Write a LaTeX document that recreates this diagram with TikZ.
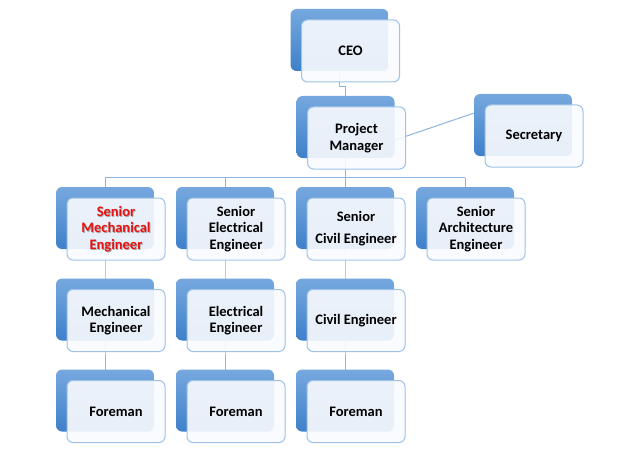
\documentclass[tikz,border=0pt]{standalone}
\usepackage{fontspec}
\setmainfont{Carlito}
\usetikzlibrary{calc}
\definecolor{bluetop}{RGB}{118,168,222}
\definecolor{bluebot}{RGB}{62,128,202}
\definecolor{frontfill}{RGB}{250,251,254}
\definecolor{frontdraw}{RGB}{158,194,232}
\definecolor{connc}{RGB}{140,180,225}
\definecolor{redtxt}{RGB}{232,18,18}
\pgfdeclarelayer{conns}
\pgfdeclarelayer{backs}
\pgfsetlayers{conns,backs,main}
\tikzset{
  backbox/.style={rectangle, rounded corners=6pt, minimum width=98pt, minimum height=62pt,
    top color=bluetop, bottom color=bluebot, draw=none, inner sep=0pt},
  frontbox/.style={rectangle, rounded corners=6pt, minimum width=98pt, minimum height=62pt,
    fill=frontfill, fill opacity=0.9, text opacity=1, draw=frontdraw, draw opacity=1, line width=1pt,
    align=center, font=\bfseries\fontsize{14.5}{16.5}\selectfont, inner sep=0pt},
  txt/.style={align=center, font=\bfseries\fontsize{14.5}{16.5}\selectfont, inner sep=0pt},
  conn/.style={draw=connc, line width=1pt}
}
\newcommand\orgunit[4]{%
  \begin{pgfonlayer}{backs}\node[backbox] (#1b) at (#2,#3) {};\end{pgfonlayer}
  \node[frontbox] (#1) at (#2+11,#3+11) {#4};
}
\begin{document}
\begin{tikzpicture}[x=1pt,y=-1pt]
\useasboundingbox (0,0) rectangle (631,468);
\orgunit{ceo}{339.5}{40}{CEO}
\orgunit{pm}{345.5}{127}{Project\\Manager}
\orgunit{sec}{523}{125}{Secretary}
\orgunit{sa}{105}{218}{}
\node[txt, text=black!35] at (116.8,229.8) {Senior\\Mechanical\\Engineer};
\node[txt, text=redtxt] (satext) at (116,229) {Senior\\Mechanical\\Engineer};
\orgunit{sb}{225}{218}{Senior\\Electrical\\Engineer}
\orgunit{sc}{345}{218}{Senior\\[5.5pt]Civil Engineer}
\orgunit{sd}{465}{218}{Senior\\Architecture\\Engineer}
\orgunit{ma}{105}{309.5}{Mechanical\\Engineer}
\orgunit{mb}{225}{309.5}{Electrical\\Engineer}
\orgunit{mc}{345}{309.5}{Civil Engineer}
\orgunit{fa}{105}{400.5}{Foreman}
\orgunit{fb}{225}{400.5}{Foreman}
\orgunit{fc}{345}{400.5}{Foreman}
\coordinate (jog) at (0,87);
\coordinate (bus) at (0,177.5);
\begin{pgfonlayer}{conns}
\draw[conn] (ceob.center) -- (ceob.center |- jog) -| (pmb.center);
\draw[conn] ($(pmb.north east)!0.71!(pmb.south east)$) -- ($(secb.north west)!0.31!(secb.south west)$);
\draw[conn] (pmb.center) -- (pmb.center |- bus);
\draw[conn] (sab.center |- bus) -- (sdb.center |- bus);
\draw[conn] (sab.center |- bus) -- (sab.center);
\draw[conn] (sbb.center |- bus) -- (sbb.center);
\draw[conn] (scb.center |- bus) -- (scb.center);
\draw[conn] (sdb.center |- bus) -- (sdb.center);
\draw[conn] (sab.center) -- (mab.center) -- (fab.center);
\draw[conn] (sbb.center) -- (mbb.center) -- (fbb.center);
\draw[conn] (scb.center) -- (mcb.center) -- (fcb.center);
\end{pgfonlayer}
\end{tikzpicture}
\end{document}
